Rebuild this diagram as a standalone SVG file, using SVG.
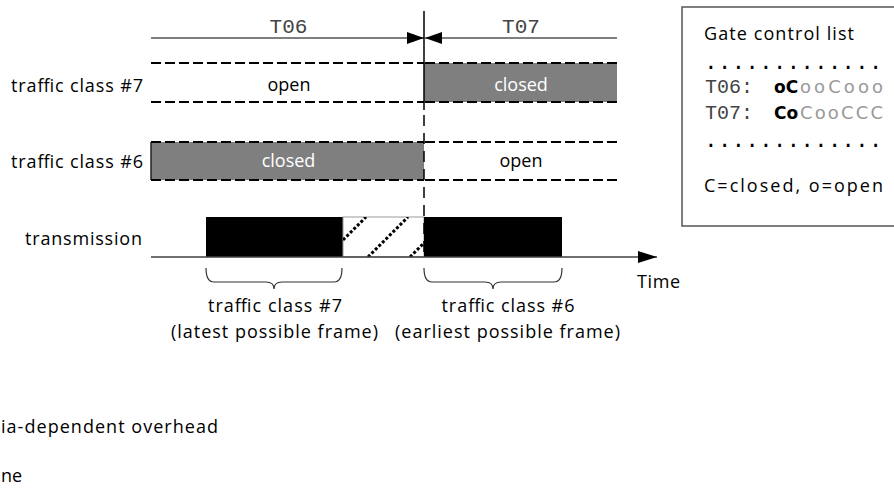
<svg xmlns="http://www.w3.org/2000/svg" width="894" height="491" viewBox="0 0 894 491">
<style>
.lbl{font-family:"Open Sans","Liberation Sans",sans-serif;font-size:18px;fill:#000}
.mid{text-anchor:middle}
.end{text-anchor:end}
.wht{fill:#fff}
.mono{font-family:"Liberation Mono","DejaVu Sans Mono",monospace;fill:#444}
.bold{font-family:"DejaVu Sans","Open Sans",sans-serif;font-weight:bold;font-size:17px;fill:#000}
.grey{font-family:"DejaVu Sans","Open Sans",sans-serif;font-size:18px;fill:#999}
.dash{stroke:#000;stroke-width:2;stroke-dasharray:10 4;fill:none}
.vdash{stroke:#000;stroke-width:1.5;stroke-dasharray:11 7;fill:none}
.thin{stroke:#000;stroke-width:1.2;fill:none}
.axis{stroke:#404040;stroke-width:1.6;fill:none}
.brace{stroke:#333;stroke-width:1.2;fill:none}
.gate{fill:#7f7f7f}
.frame{fill:#000}
.hatch{stroke:#000;stroke-width:3;stroke-dasharray:3 2;fill:none}
</style>
<defs>
<marker id="ah" viewBox="0 0 17 12" refX="17" refY="6" markerWidth="17" markerHeight="12" orient="auto" markerUnits="userSpaceOnUse"><path d="M0,0 L17,6 L0,12 z" fill="#000"/></marker>
<marker id="ahT" viewBox="0 0 19 12" refX="19" refY="6" markerWidth="19" markerHeight="12" orient="auto" markerUnits="userSpaceOnUse"><path d="M0,0 L19,6 L0,12 z" fill="#000"/></marker>
<clipPath id="hc"><rect x="343" y="217" width="81" height="40"/></clipPath>
</defs>

<g id="label-tc7"><text class="lbl end" x="143" y="92" textLength="132">traffic class #7</text></g>
<g id="label-tc6"><text class="lbl end" x="143" y="168" textLength="132">traffic class #6</text></g>
<g id="label-tx"><text class="lbl end" x="142" y="245" textLength="117">transmission</text></g>

<g id="period-T06"><text class="mono mid" x="288.5" y="33" font-size="21">T06</text></g>
<g id="period-T07"><text class="mono mid" x="521" y="33" font-size="21">T07</text></g>

<g id="tc7-open">
<line class="dash" x1="151" y1="63" x2="424" y2="63"/>
<line class="dash" x1="151" y1="102" x2="424" y2="102"/>
<text class="lbl mid" x="289" y="91">open</text>
</g>
<g id="tc7-closed">
<rect class="gate" x="424" y="63" width="193" height="39"/>
<line class="dash" x1="425" y1="63" x2="617" y2="63"/>
<line class="dash" x1="425" y1="102" x2="617" y2="102"/>
<text class="lbl mid wht" x="521" y="91">closed</text>
</g>
<g id="tc6-closed">
<rect class="gate" x="151" y="142" width="273" height="38"/>
<line x1="151" y1="142" x2="151" y2="180" stroke="#222" stroke-width="1.5"/>
<line class="dash" x1="151" y1="142" x2="424" y2="142"/>
<line class="dash" x1="151" y1="180" x2="424" y2="180"/>
<text class="lbl mid wht" x="288.5" y="167">closed</text>
</g>
<g id="tc6-open">
<line class="dash" x1="425" y1="142" x2="617" y2="142"/>
<line class="dash" x1="425" y1="180" x2="617" y2="180"/>
<text class="lbl mid" x="521" y="167">open</text>
</g>

<g id="frame-tc7"><rect class="frame" x="206" y="217" width="137" height="40"/></g>
<g id="overhead">
<rect x="343" y="217" width="81" height="40" fill="#fff" stroke="#999" stroke-width="1"/>
<g clip-path="url(#hc)">
<line class="hatch" x1="343" y1="240" x2="366" y2="217"/>
<line class="hatch" x1="368" y1="257" x2="408" y2="217"/>
<line class="hatch" x1="410" y1="257" x2="426" y2="241"/>
</g>
</g>
<g id="frame-tc6"><rect class="frame" x="424" y="217" width="138" height="40"/></g>

<g id="connectors">
<line class="thin" x1="151" y1="38" x2="424" y2="38" marker-end="url(#ah)"/>
<line class="thin" x1="617" y1="38" x2="425" y2="38" marker-end="url(#ah)"/>
<line x1="424" y1="11" x2="424" y2="110" stroke="#000" stroke-width="1.5"/>
<line class="vdash" x1="424" y1="115" x2="424" y2="257"/>
<line class="axis" x1="151" y1="257" x2="657" y2="257" marker-end="url(#ahT)"/>
<path class="brace" d="M206,268 Q206,282 214,282 L266,282 Q274,282 274,289 Q274,282 282,282 L334,282 Q342,282 342,268"/>
<path class="brace" d="M424,268 Q424,282 432,282 L485,282 Q493,282 493,289 Q493,282 501,282 L554,282 Q562,282 562,268"/>
</g>

<g id="time-label"><text class="lbl" x="637" y="288" textLength="43">Time</text></g>
<g id="brace-tc7">
<text class="lbl mid" x="275" y="312" textLength="134">traffic class #7</text>
<text class="lbl mid" x="274.5" y="338" textLength="207">(latest possible frame)</text>
</g>
<g id="brace-tc6">
<text class="lbl mid" x="508" y="312" textLength="133">traffic class #6</text>
<text class="lbl mid" x="507.5" y="338" textLength="225">(earliest possible frame)</text>
</g>

<g id="gate-control-list">
<rect x="682" y="7" width="230" height="219" fill="#fff" stroke="#555" stroke-width="1.5"/>
<text class="lbl" x="704" y="40" textLength="150">Gate control list</text>
<text class="mono" x="704" y="69" font-size="22.9" style="fill:#000">.............</text>
<text class="mono" x="705" y="93" font-size="20">T06:</text>
<text class="bold" x="774" y="93">oC</text>
<text class="grey" x="800" y="93" textLength="83">ooCooo</text>
<text class="mono" x="705" y="119" font-size="20">T07:</text>
<text class="bold" x="774" y="119">Co</text>
<text class="grey" x="800" y="119" textLength="83">CooCCC</text>
<text class="mono" x="704" y="147" font-size="22.9" style="fill:#000">.............</text>
<text class="lbl" x="704" y="192" textLength="179">C=closed, o=open</text>
</g>

<g id="legend-fragments">
<text class="lbl" x="1" y="433" textLength="217">ia-dependent overhead</text>
<text class="lbl" x="1" y="482">ne</text>
</g>
</svg>
